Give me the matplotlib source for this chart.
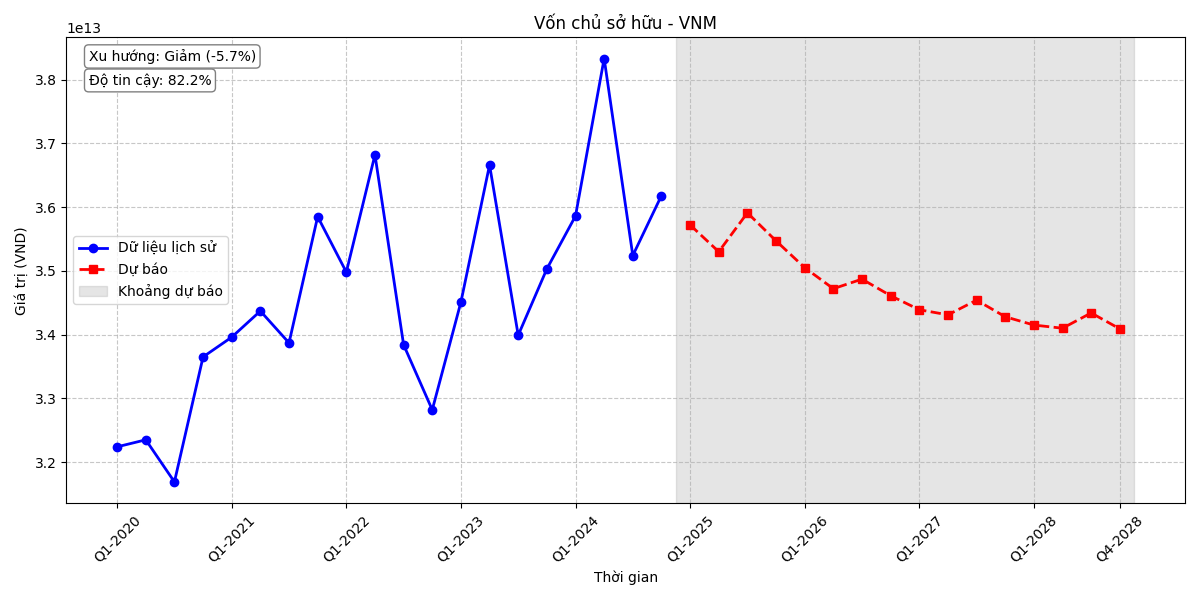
import matplotlib
matplotlib.use('Agg')
import matplotlib.pyplot as plt

# quarterly labels
hist_labels = ['Q%d-%d' % (q, y) for y in range(2020, 2025) for q in range(1, 5)]
fc_labels = ['Q%d-%d' % (q, y) for y in range(2025, 2029) for q in range(1, 5)]

# values in units of 1e13 VND
hist_vals = [3.224, 3.235, 3.169, 3.365, 3.396, 3.437, 3.387, 3.585,
             3.498, 3.682, 3.384, 3.282, 3.451, 3.666, 3.399, 3.503,
             3.586, 3.833, 3.524, 3.618]
fc_vals = [3.572, 3.530, 3.591, 3.547, 3.505, 3.472, 3.487, 3.461,
           3.439, 3.431, 3.454, 3.428, 3.415, 3.410, 3.434, 3.409]

trend_text = 'Xu hướng: Giảm (-5.7%)'
conf_text = 'Độ tin cậy: 82.2%'

all_labels = hist_labels + fc_labels
hist_x = list(range(len(hist_labels)))
fc_x = list(range(len(hist_labels), len(all_labels)))

fig, ax = plt.subplots(figsize=(12, 6), dpi=100)

ax.plot(hist_x, [v * 1e13 for v in hist_vals], 'b-o', linewidth=2,
        markersize=6, label='Dữ liệu lịch sử')
ax.plot(fc_x, [v * 1e13 for v in fc_vals], 'r--s', linewidth=2,
        markersize=6, label='Dự báo')
ax.axvspan(fc_x[0] - 0.5, fc_x[-1] + 0.5, color='gray', alpha=0.2,
           label='Khoảng dự báo')

tick_pos = list(range(0, len(all_labels), 4)) + [len(all_labels) - 1]
ax.set_xticks(tick_pos)
ax.set_xticklabels([all_labels[i] for i in tick_pos], rotation=45)

ax.set_title('Vốn chủ sở hữu - VNM')
ax.set_xlabel('Thời gian')
ax.set_ylabel('Giá trị (VND)')
ax.grid(True, linestyle='--', alpha=0.7)
ax.legend(loc='center left')

box = dict(boxstyle='round', facecolor='white', edgecolor='gray')
ax.text(0.02, 0.975, trend_text, transform=ax.transAxes, va='top', bbox=box)
ax.text(0.02, 0.923, conf_text, transform=ax.transAxes, va='top', bbox=box)

plt.tight_layout()
plt.savefig('out.png')
